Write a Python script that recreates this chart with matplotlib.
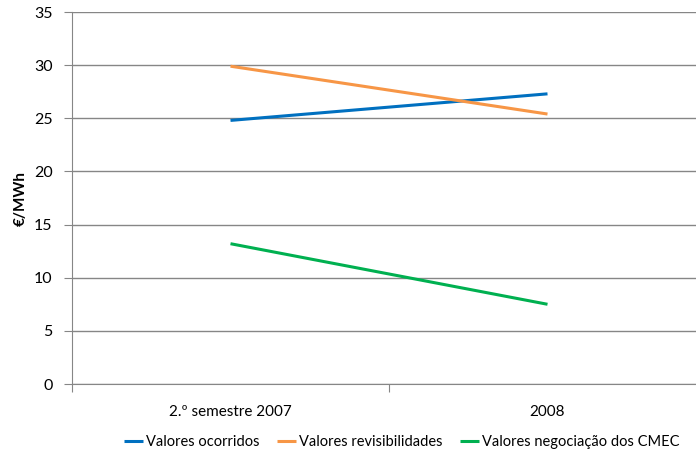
import numpy as np
import matplotlib.pyplot as plt

categories = ["2.º semestre 2007", "2008"]
valores_ocorridos = [24.8, 27.3]
valores_revisibilidades = [29.9, 25.4]
valores_cmec = [13.2, 7.5]

series = [
    ("Valores ocorridos", valores_ocorridos, "#0070C0"),
    ("Valores revisibilidades", valores_revisibilidades, "#F79646"),
    ("Valores negociação dos CMEC", valores_cmec, "#00B050"),
]

plt.rcParams["font.family"] = ["Lato", "DejaVu Sans"]

fig = plt.figure(figsize=(6.96, 4.61), dpi=100)
# área do gráfico (em fração da figura)
ax = fig.add_axes([72 / 696, 1 - 384 / 461, 634 / 696, 372 / 461])

x = np.arange(len(categories))
for name, vals, col in series:
    ax.plot(x, vals, color=col, lw=2.2, label=name, solid_capstyle="butt")

ax.set_ylim(0, 35)
ax.set_yticks(np.arange(0, 36, 5))
ax.set_xlim(-0.5, 1.5)
ax.yaxis.grid(True, color="#868686", lw=1)
ax.set_axisbelow(True)

# marcas do eixo X nas fronteiras das categorias
ax.set_xticks([-0.5, 0.5, 1.5])
ax.set_xticklabels([])
ax.set_xticks(x, minor=True)
ax.set_xticklabels(categories, minor=True)
ax.tick_params(axis="x", which="minor", length=0, pad=15, labelsize=11)
ax.tick_params(axis="x", which="major", length=6, color="#868686")
ax.tick_params(axis="y", length=6, color="#868686", labelsize=11.5, pad=8)

for s in ["top", "right"]:
    ax.spines[s].set_visible(False)
ax.spines["left"].set_color("#868686")
ax.spines["bottom"].set_color("#868686")

ax.set_ylabel("€/MWh", fontsize=11, fontweight="bold", labelpad=4)

fig.legend(loc="center", bbox_to_anchor=(402 / 696, 1 - 442 / 461), ncol=3,
           frameon=False, fontsize=10.5, handlelength=1.3, handletextpad=0.2,
           columnspacing=1.2, borderpad=0.1)

fig.savefig("out.png", dpi=100)
